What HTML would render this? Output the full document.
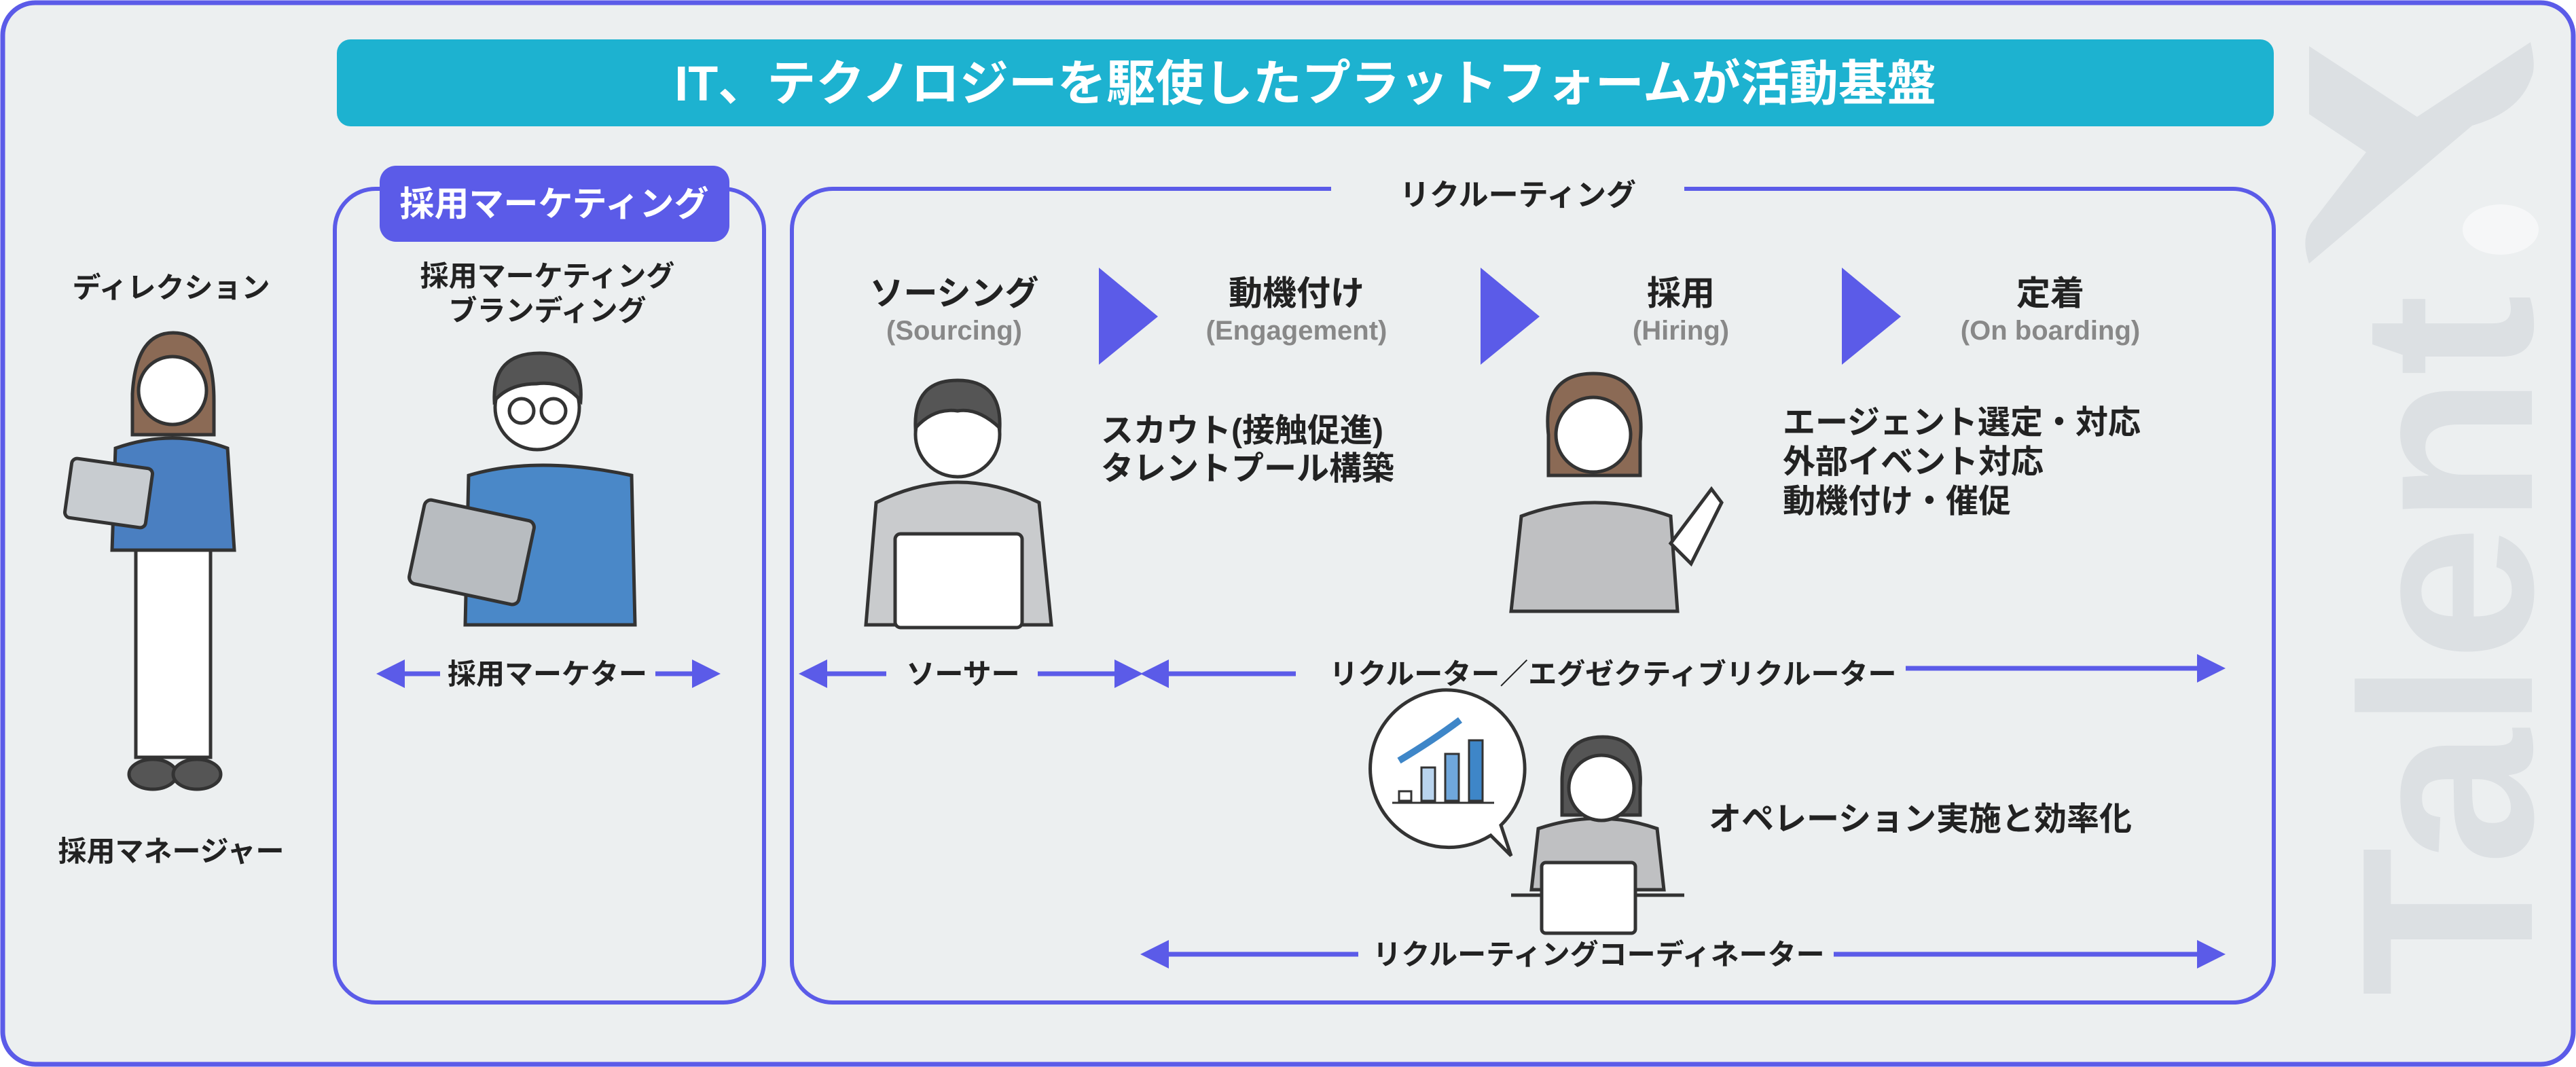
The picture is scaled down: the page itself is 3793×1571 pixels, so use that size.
<!DOCTYPE html>
<html><head><meta charset="utf-8"><style>
html,body{margin:0;padding:0;background:#fff}
svg{display:block}
text{font-family:"Liberation Sans","Noto Sans CJK JP",sans-serif;font-weight:bold}
</style></head><body>
<svg width="3793" height="1571" viewBox="0 0 3793 1571" xmlns="http://www.w3.org/2000/svg">
<defs>
<marker id="ah" markerWidth="6" markerHeight="6" refX="3" refY="3" orient="auto-start-reverse" markerUnits="strokeWidth"><path d="M0,0 L6,3 L0,6 z" fill="#5B5BE8"/></marker>
</defs>
<rect x="4" y="4" width="3785" height="1563" rx="48" fill="#ECEFF0" stroke="#5B5BE8" stroke-width="7"/>
<!-- Talent watermark -->
<g fill="#DCE0E3">
<text transform="translate(3728,1467) rotate(-90)" font-size="360" font-family="Liberation Sans,sans-serif">Talent</text>
<path d="M3400,68 L3559,172 L3726,62 Q3735,100 3727,115 Q3710,165 3640,185 L3400,388 Q3385,345 3410,320 L3484,224 L3400,168 Z"/>
</g>
<ellipse cx="3682" cy="338" rx="56" ry="37" fill="#F6F7F8"/>
<!-- title -->
<rect x="496" y="58" width="2852" height="128" rx="20" fill="#1DB2D0"/>
<text x="1922" y="148" font-size="72" fill="#fff" text-anchor="middle">IT、テクノロジーを駆使したプラットフォームが活動基盤</text>
<!-- boxes -->
<rect x="493" y="278" width="632" height="1198" rx="60" fill="none" stroke="#5B5BE8" stroke-width="6"/>
<rect x="1166" y="278" width="2182" height="1198" rx="60" fill="none" stroke="#5B5BE8" stroke-width="6"/>
<rect x="1960" y="260" width="520" height="50" fill="#ECEFF0"/>
<text x="2235" y="302" font-size="44" fill="#222" text-anchor="middle">リクルーティング</text>
<rect x="559" y="244" width="515" height="112" rx="24" fill="#5B5BE8"/>
<text x="816" y="318" font-size="51" fill="#fff" text-anchor="middle">採用マーケティング</text>
<!-- left texts -->
<g font-size="42" fill="#222" text-anchor="middle">
<text x="252" y="438">ディレクション</text>
<text x="252" y="1268">採用マネージャー</text>
<text x="806" y="421">採用マーケティング</text>
<text x="806" y="472">ブランディング</text>
<text x="806" y="1007">採用マーケター</text>
<text x="1418" y="1007">ソーサー</text>
<text x="2375" y="1007">リクルーター／エグゼクティブリクルーター</text>
<text x="2354" y="1420">リクルーティングコーディネーター</text>
</g>
<!-- arrows -->
<g stroke="#5B5BE8" stroke-width="7" fill="none">
<line x1="648" y1="992" x2="575" y2="992" marker-end="url(#ah)"/>
<line x1="965" y1="992" x2="1040" y2="992" marker-end="url(#ah)"/>
<line x1="1305" y1="992" x2="1197" y2="992" marker-end="url(#ah)"/>
<line x1="1528" y1="992" x2="1662" y2="992" marker-end="url(#ah)"/>
<line x1="1908" y1="992" x2="1700" y2="992" marker-end="url(#ah)"/>
<line x1="2806" y1="984" x2="3256" y2="984" marker-end="url(#ah)"/>
<line x1="2000" y1="1405" x2="1700" y2="1405" marker-end="url(#ah)"/>
<line x1="2700" y1="1405" x2="3256" y2="1405" marker-end="url(#ah)"/>
</g>
<!-- stages -->
<g text-anchor="middle">
<text x="1405" y="449" font-size="50" fill="#222">ソーシング</text>
<text x="1405" y="500" font-size="40" fill="#888" font-weight="normal">(Sourcing)</text>
<text x="1909" y="449" font-size="50" fill="#222">動機付け</text>
<text x="1909" y="500" font-size="40" fill="#888" font-weight="normal">(Engagement)</text>
<text x="2475" y="449" font-size="50" fill="#222">採用</text>
<text x="2475" y="500" font-size="40" fill="#888" font-weight="normal">(Hiring)</text>
<text x="3019" y="449" font-size="50" fill="#222">定着</text>
<text x="3019" y="500" font-size="40" fill="#888" font-weight="normal">(On boarding)</text>
</g>
<g fill="#5B5BE8">
<polygon points="1618,394 1705,466 1618,537"/>
<polygon points="2180,394 2267,466 2180,537"/>
<polygon points="2712,394 2799,466 2712,537"/>
</g>
<g font-size="48" fill="#222">
<text x="1621" y="650">スカウト(接触促進)</text>
<text x="1621" y="706">タレントプール構築</text>
<text x="2625" y="638">エージェント選定・対応</text>
<text x="2625" y="696">外部イベント対応</text>
<text x="2625" y="754">動機付け・催促</text>
<text x="2516" y="1222">オペレーション実施と効率化</text>
</g>
<!-- figures -->
<g stroke="#333" stroke-width="5">
<path d="M195,580 Q200,490 255,490 Q315,490 315,590 L315,640 L195,640 Z" fill="#8B6A55"/>
<rect x="200" y="800" width="110" height="315" fill="#fff"/>
<path d="M170,660 Q255,630 335,660 L345,810 L165,810 Z" fill="#4A7FC1"/>
<circle cx="254" cy="575" r="50" fill="#fff"/>
<rect x="100" y="682" width="120" height="88" rx="8" fill="#C8CCD0" transform="rotate(8 160 726)"/>
<ellipse cx="225" cy="1140" rx="35" ry="22" fill="#555"/>
<ellipse cx="290" cy="1140" rx="35" ry="22" fill="#555"/>
<path d="M690,700 Q790,670 930,700 L935,920 L685,920 Z" fill="#4A88C8"/>
<circle cx="791" cy="600" r="62" fill="#fff"/>
<path d="M728,590 Q725,520 795,520 Q860,520 855,590 Q830,560 790,565 Q750,565 728,590Z" fill="#555"/>
<circle cx="768" cy="605" r="18" fill="none"/><circle cx="815" cy="605" r="18" fill="none"/>
<rect x="612" y="750" width="165" height="126" rx="10" fill="#B8BCC0" transform="rotate(12 694 813)"/>
<path d="M1275,920 L1290,740 Q1410,680 1530,740 L1548,920 Z" fill="#C9CBCD"/>
<circle cx="1410" cy="640" r="62" fill="#fff"/>
<path d="M1348,630 Q1345,560 1410,560 Q1475,560 1472,630 Q1440,600 1410,605 Q1375,600 1348,630Z" fill="#555"/>
<rect x="1318" y="786" width="187" height="138" rx="8" fill="#fff"/>
<path d="M2225,900 L2240,760 Q2346,720 2460,760 L2470,900 Z" fill="#BFC0C2"/>
<path d="M2280,640 Q2270,550 2346,550 Q2425,550 2415,650 L2415,700 L2280,700Z" fill="#8B6A55"/>
<circle cx="2346" cy="640" r="55" fill="#fff"/>
<path d="M2460,800 L2520,720 L2535,740 L2490,830Z" fill="#fff"/>
<path d="M2124,1016 A116,116 0 1 0 2195,1230 L2225,1260 L2210,1215 A116,116 0 0 0 2124,1016Z" fill="#fff"/>
<g stroke-width="3">
<rect x="2060" y="1165" width="18" height="14" fill="#fff"/>
<rect x="2093" y="1130" width="20" height="49" fill="#B9D4EE"/>
<rect x="2128" y="1110" width="20" height="69" fill="#6FA7DC"/>
<rect x="2163" y="1090" width="20" height="89" fill="#3E86C8"/>
<line x1="2050" y1="1182" x2="2200" y2="1182"/>
</g>
<path d="M2060,1120 Q2110,1090 2150,1060" stroke="#3E86C8" stroke-width="10" fill="none"/>
<path d="M2255,1310 L2265,1220 Q2355,1190 2440,1220 L2450,1310Z" fill="#BFC0C2"/>
<path d="M2300,1150 Q2300,1085 2360,1085 Q2420,1085 2415,1160 L2415,1200 L2300,1200Z" fill="#555"/>
<circle cx="2358" cy="1160" r="48" fill="#fff"/>
<line x1="2225" y1="1318" x2="2480" y2="1318"/>
<rect x="2270" y="1270" width="138" height="104" rx="6" fill="#fff"/>
</g>
</svg>
</body></html>
